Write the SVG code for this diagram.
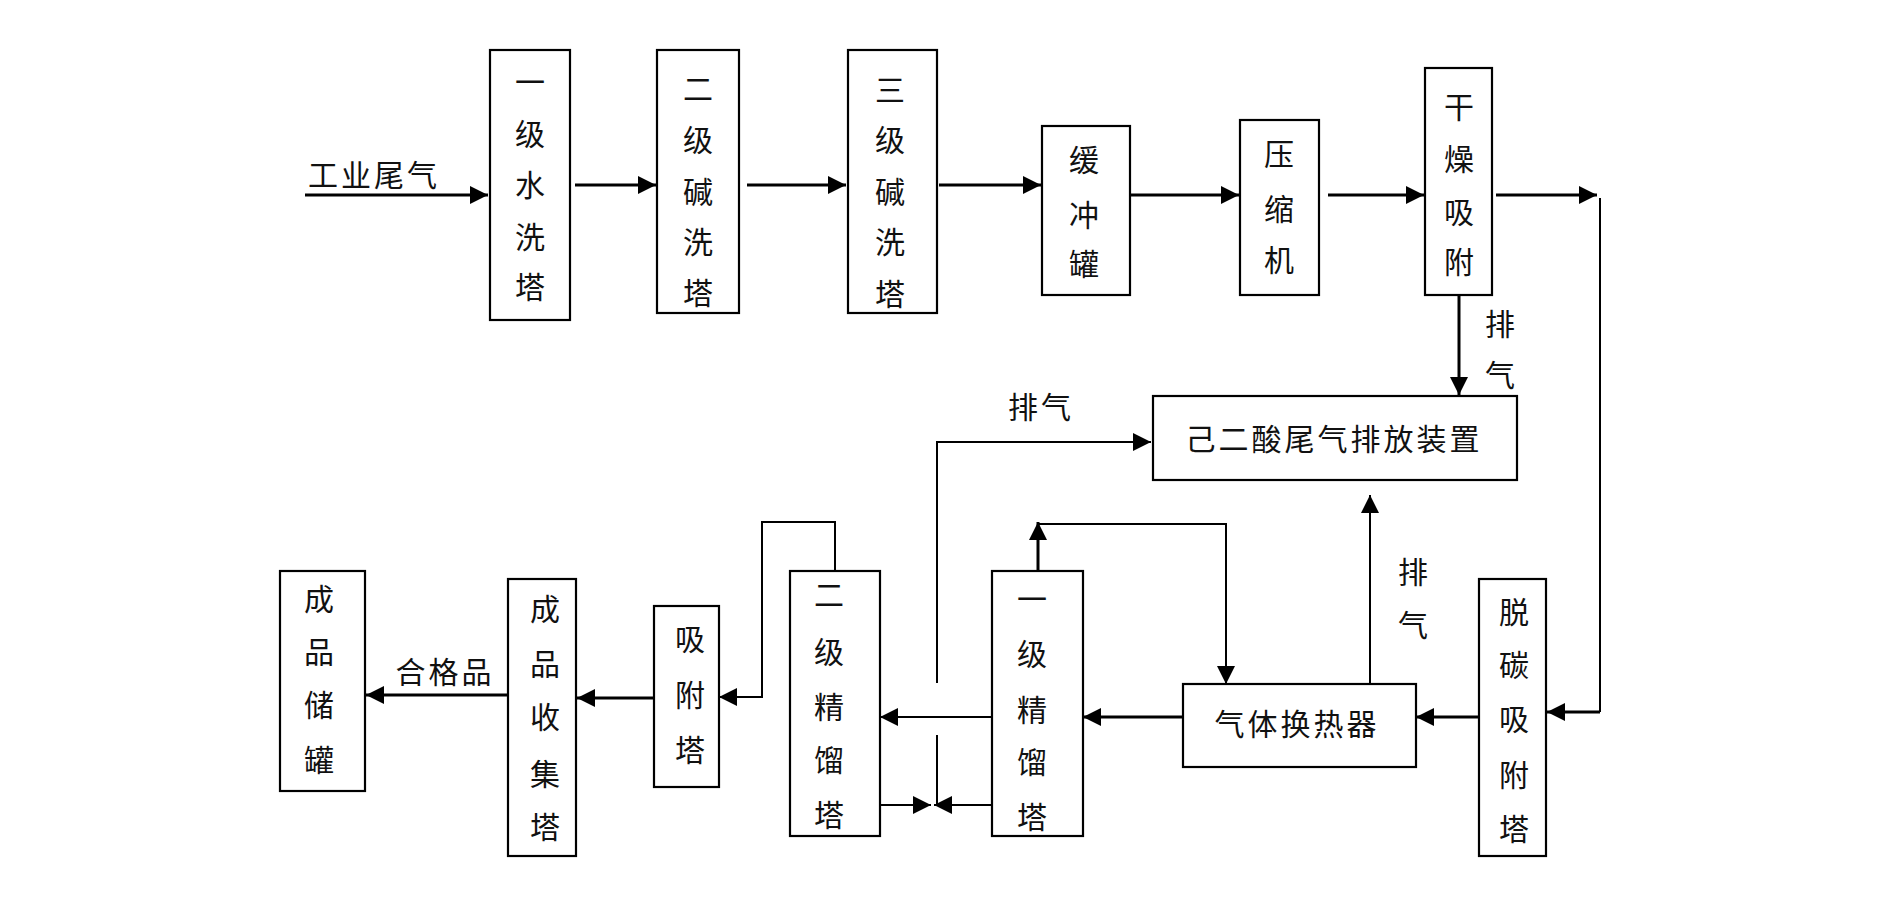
<svg xmlns="http://www.w3.org/2000/svg" width="1890" height="922" viewBox="0 0 1890 922">
<style>
.bx{fill:#fff;stroke:#000;stroke-width:2.2}
.t{font-family:"Noto Sans CJK SC","Noto Sans",sans-serif;font-size:30px;fill:#111;text-anchor:middle;dominant-baseline:central}
.lb{font-family:"Noto Sans CJK SC","Noto Sans",sans-serif;font-size:30px;fill:#111;text-anchor:middle;dominant-baseline:central;letter-spacing:3px}
.c{fill:none;stroke:#000;stroke-width:3}
.c2{fill:none;stroke:#000;stroke-width:2}
</style>
<defs>
<marker id="ah" viewBox="0 0 18 18" refX="18" refY="9" markerWidth="18" markerHeight="18" markerUnits="userSpaceOnUse" orient="auto">
<path d="M0,0 L18,9 L0,18 z" fill="#000"/>
</marker>
</defs>
<rect width="1890" height="922" fill="#fff"/>

<g id="connectors">
<path class="c" d="M305,195 H488" marker-end="url(#ah)"/>
<path class="c" d="M575,185 H656" marker-end="url(#ah)"/>
<path class="c" d="M747,185 H846" marker-end="url(#ah)"/>
<path class="c" d="M939,185 H1041" marker-end="url(#ah)"/>
<path class="c" d="M1131,195 H1239" marker-end="url(#ah)"/>
<path class="c" d="M1328,195 H1424" marker-end="url(#ah)"/>
<path class="c" d="M1496,195 H1597" marker-end="url(#ah)"/>
<path class="c2" d="M1600,198 V712"/>
<path class="c" d="M1600,712 H1547" marker-end="url(#ah)"/>
<path class="c" d="M1479,717 H1416" marker-end="url(#ah)"/>
<path class="c" d="M1183,717 H1083" marker-end="url(#ah)"/>
<path class="c2" d="M992,717 H880" marker-end="url(#ah)"/>
<path class="c" d="M1038,571 V522" marker-end="url(#ah)"/>
<path class="c2" d="M1038,524 H1226 V684" marker-end="url(#ah)"/>
<path class="c2" d="M1370,684 V495" marker-end="url(#ah)"/>
<path class="c" d="M1459,295 V395" marker-end="url(#ah)"/>
<path class="c2" d="M937,683 V442 H1151" marker-end="url(#ah)"/>
<path class="c2" d="M937,735 V805"/>
<path class="c2" d="M880,805 H931" marker-end="url(#ah)"/>
<path class="c2" d="M992,805 H934" marker-end="url(#ah)"/>
<path class="c2" d="M835,571 V522 H762 V697 H719" marker-end="url(#ah)"/>
<path class="c" d="M653,698 H577" marker-end="url(#ah)"/>
<path class="c" d="M508,695 H366" marker-end="url(#ah)"/>
</g>

<g id="labels">
<text class="lb" x="374" y="173">工业尾气</text>
<text class="lb" x="1041" y="405">排气</text>
<text class="t" x="1500" y="322">排</text>
<text class="t" x="1500" y="373">气</text>
<text class="t" x="1413" y="570">排</text>
<text class="t" x="1413" y="623">气</text>
<text class="lb" x="445" y="670">合格品</text>
</g>

<g id="n1">
<rect class="bx" x="490" y="50" width="80" height="270"/>
<text class="t" x="530" y="80">一</text><text class="t" x="530" y="132">级</text><text class="t" x="530" y="183">水</text><text class="t" x="530" y="235">洗</text><text class="t" x="530" y="285">塔</text>
</g>
<g id="n2">
<rect class="bx" x="657" y="50" width="82" height="263"/>
<text class="t" x="698" y="87">二</text><text class="t" x="698" y="138">级</text><text class="t" x="698" y="190">碱</text><text class="t" x="698" y="240">洗</text><text class="t" x="698" y="291">塔</text>
</g>
<g id="n3">
<rect class="bx" x="848" y="50" width="89" height="263"/>
<text class="t" x="890" y="88">三</text><text class="t" x="890" y="138">级</text><text class="t" x="890" y="190">碱</text><text class="t" x="890" y="240">洗</text><text class="t" x="890" y="292">塔</text>
</g>
<g id="n4">
<rect class="bx" x="1042" y="126" width="88" height="169"/>
<text class="t" x="1084" y="158">缓</text><text class="t" x="1084" y="213">冲</text><text class="t" x="1084" y="262">罐</text>
</g>
<g id="n5">
<rect class="bx" x="1240" y="120" width="79" height="175"/>
<text class="t" x="1279" y="152">压</text><text class="t" x="1279" y="207">缩</text><text class="t" x="1279" y="258">机</text>
</g>
<g id="n6">
<rect class="bx" x="1425" y="68" width="67" height="227"/>
<text class="t" x="1459" y="105">干</text><text class="t" x="1459" y="157">燥</text><text class="t" x="1459" y="210">吸</text><text class="t" x="1459" y="260">附</text>
</g>
<g id="n7">
<rect class="bx" x="1153" y="396" width="364" height="84"/>
<text class="lb" x="1334" y="437">己二酸尾气排放装置</text>
</g>
<g id="n8">
<rect class="bx" x="1479" y="579" width="67" height="277"/>
<text class="t" x="1514" y="610">脱</text><text class="t" x="1514" y="663">碳</text><text class="t" x="1514" y="717">吸</text><text class="t" x="1514" y="773">附</text><text class="t" x="1514" y="827">塔</text>
</g>
<g id="n9">
<rect class="bx" x="1183" y="684" width="233" height="83"/>
<text class="lb" x="1297" y="722">气体换热器</text>
</g>
<g id="n10">
<rect class="bx" x="992" y="571" width="91" height="265"/>
<text class="t" x="1032" y="597">一</text><text class="t" x="1032" y="652">级</text><text class="t" x="1032" y="708">精</text><text class="t" x="1032" y="760">馏</text><text class="t" x="1032" y="815">塔</text>
</g>
<g id="n11">
<rect class="bx" x="790" y="571" width="90" height="265"/>
<text class="t" x="829" y="593">二</text><text class="t" x="829" y="650">级</text><text class="t" x="829" y="705">精</text><text class="t" x="829" y="758">馏</text><text class="t" x="829" y="813">塔</text>
</g>
<g id="n12">
<rect class="bx" x="654" y="606" width="65" height="181"/>
<text class="t" x="690" y="637">吸</text><text class="t" x="690" y="693">附</text><text class="t" x="690" y="748">塔</text>
</g>
<g id="n13">
<rect class="bx" x="508" y="579" width="68" height="277"/>
<text class="t" x="545" y="607">成</text><text class="t" x="545" y="662">品</text><text class="t" x="545" y="715">收</text><text class="t" x="545" y="772">集</text><text class="t" x="545" y="825">塔</text>
</g>
<g id="n14">
<rect class="bx" x="280" y="571" width="85" height="220"/>
<text class="t" x="319" y="597">成</text><text class="t" x="319" y="650">品</text><text class="t" x="319" y="703">储</text><text class="t" x="319" y="758">罐</text>
</g>
</svg>
